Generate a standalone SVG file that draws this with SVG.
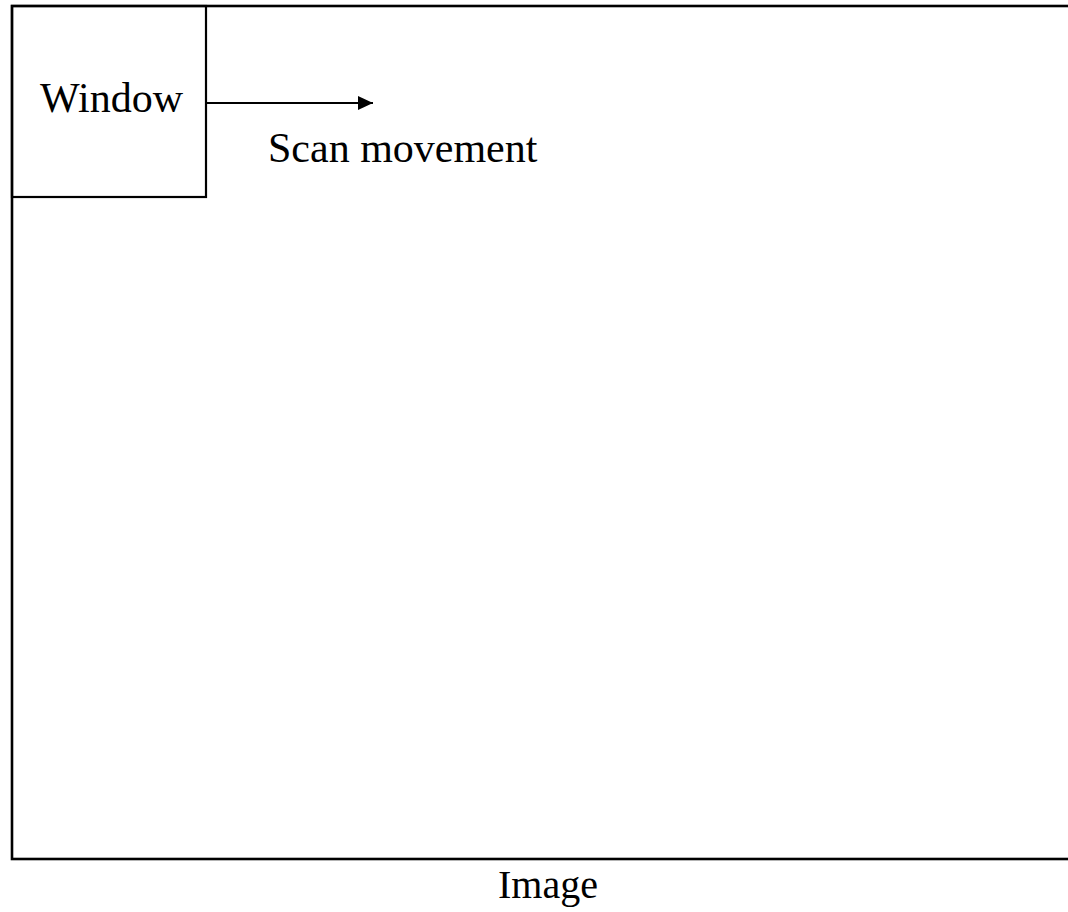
<svg xmlns="http://www.w3.org/2000/svg" width="1068" height="912" viewBox="0 0 1068 912">
<style>
text{font-family:"Liberation Serif","Times New Roman",serif;font-size:42px;fill:#000}
.frame{fill:none;stroke:#000}
</style>
<defs>
<marker id="ah" markerWidth="15" markerHeight="14" refX="15" refY="7" orient="auto" markerUnits="userSpaceOnUse" viewBox="0 0 15 14">
<path d="M0,0 L15,7 L0,14 Z" fill="#000"/>
</marker>
</defs>
<rect width="1068" height="912" fill="#fff"/>
<g id="image">
<rect class="frame" x="12" y="6" width="1070" height="853" stroke-width="2.6"/>
<text x="498" y="898" style="font-size:40px">Image</text>
</g>
<g id="window">
<rect class="frame" x="12" y="6" width="194" height="191" stroke-width="2.2"/>
<text x="40" y="112">Window</text>
</g>
<g id="connectors">
<line x1="207" y1="103" x2="373" y2="103" stroke="#000" stroke-width="2.2" marker-end="url(#ah)"/>
</g>
<text x="268" y="162">Scan movement</text>
</svg>
